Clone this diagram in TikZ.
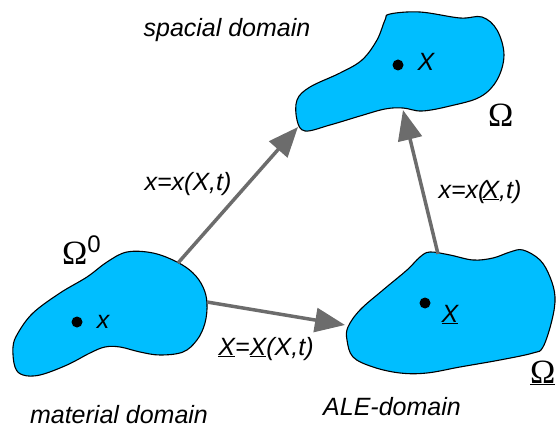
\documentclass[tikz,border=0pt]{standalone}
\usepackage{fontspec}
\setmainfont{Liberation Sans}
\newfontfamily\omegafont{Liberation Serif}
\usetikzlibrary{arrows.meta,positioning}
\usepackage{xcolor}
\definecolor{blobblue}{RGB}{0,190,255}
\definecolor{arrowgray}{RGB}{108,108,108}

\begin{document}
\begin{tikzpicture}[x=1pt,y=-1pt]
    \tikzstyle{blob} = [draw=black, line width=1.1pt, fill=blobblue]
    \tikzstyle{dot} = [circle, fill=black, inner sep=0pt, minimum size=11pt]
    \tikzstyle{txt} = [font=\fontsize{25}{29}\selectfont\itshape, inner sep=0pt,
               anchor=base]
    \tikzstyle{omega} = [font=\fontsize{34}{38}\omegafont, inner sep=0pt,
               anchor=base west]
    \tikzstyle{line} = [draw, arrowgray, line width=3.5pt,
               -{Triangle[length=30pt,width=24pt]}]

    \useasboundingbox (0,0) rectangle (558,428);

    % Define domains
    \draw[blob] plot[smooth cycle, tension=0.6] coordinates {
      (390,14) (420,12) (460,18) (482,17) (497,30) (504,55) (497,80)
      (480,97) (450,106) (422,111) (403,108) (385,109) (360,116)
      (330,125) (305,131) (297,120) (297,100) (310,87) (340,73)
      (362,60) (377,40) (385,20)};
    \draw[blob] plot[smooth cycle, tension=0.6] coordinates {
      (127,252) (153,253) (177,262) (193,273) (203,287) (207,303)
      (205,323) (197,340) (183,352) (160,355) (140,352) (120,347)
      (105,347) (90,353) (67,365) (40,375) (23,375) (15,367)
      (13,347) (18,333) (33,313) (60,293) (87,277) (107,262)};
    \draw[blob] plot[smooth cycle, tension=0.6] coordinates {
      (430,252) (450,255) (473,260) (493,258) (510,252) (523,250)
      (540,260) (550,277) (555,297) (552,320) (543,347) (533,353)
      (500,360) (460,367) (427,373) (400,373) (373,367) (353,357)
      (347,340) (348,327) (360,310) (383,290) (407,270) (420,257)};

    % Mappings
    \coordinate (matTop) at (178,263);
    \coordinate (spaCorner) at (298,127);
    \coordinate (matRight) at (207,302);
    \coordinate (aleLeft) at (345,325);
    \coordinate (aleTop) at (438,254);
    \coordinate (spaBottom) at (403,110);

    \draw[line] (matTop) -- (spaCorner);
    \draw[line] (matRight) -- (aleLeft);
    \draw[line] (aleTop) -- (spaBottom);

    % Points
    \node[dot] (pSpa) at (398,65) {};
    \node[dot] (pMat) at (77,322) {};
    \node[dot] (pAle) at (425,303) {};
    \node[txt] (xSpa) at (426,71) {X};
    \node[txt] (xMat) at (103,328) {x};
    \node[txt] (xAle) at (450,322) {\underline{X}};

    % Labels
    \node[txt] (spacial) at (227,37) {spacial domain};
    \node[txt] (material) at (119,423) {material domain};
    \node[txt] (ale) at (392,415) {ALE-domain};
    \node[txt] (mapX) at (188,190) {x=x(X,t)};
    \node[txt] (mapALE) at (266,355) {\underline{X}=\underline{X}(X,t)};
    \node[txt] (mapAX) at (480,198) {x=x(\kern-4pt\underline{X},t)};

    \node[omega] (om0) at (62,265) {Ω\raisebox{13pt}{\normalfont\fontsize{24}{28}\selectfont 0}};
    \node[omega] (om) at (488,127) {Ω};
    \node[omega] (omAle) at (530,383) {\underline{Ω}};
  \end{tikzpicture}
\end{document}
